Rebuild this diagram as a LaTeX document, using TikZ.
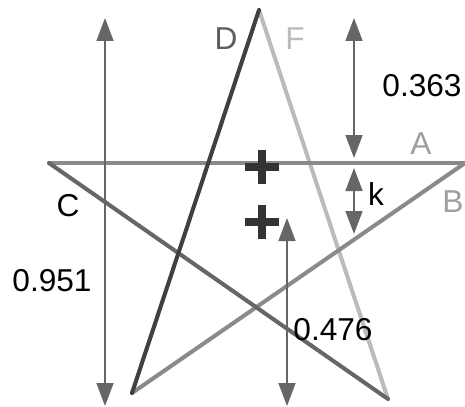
\documentclass[tikz,border=0pt]{standalone}
\usepackage{fontspec}
\setmainfont{Liberation Sans}
\usetikzlibrary{arrows.meta}
\definecolor{LineD}{HTML}{404040}
\definecolor{LineF}{HTML}{BBBBBB}
\definecolor{LineA}{HTML}{8A8A8A}
\definecolor{LineC}{HTML}{666666}
\definecolor{ArrowGray}{HTML}{666666}
\definecolor{PlusGray}{HTML}{333333}
\tikzset{
  starline/.style={line width=2.3pt,line cap=round},
  dimarrow/.style={{Triangle[length=4.6mm,width=3.4mm]}-{Triangle[length=4.6mm,width=3.4mm]},
    line width=0.85pt,draw=ArrowGray},
  lbl/.style={font=\fontsize{18}{20}\selectfont,inner sep=0pt},
  plusmark/.style={minimum size=0.68cm,inner sep=0pt,
    path picture={\draw[line width=0.16cm,draw=PlusGray]
      (path picture bounding box.north) -- (path picture bounding box.south)
      (path picture bounding box.west) -- (path picture bounding box.east);}},
}
\begin{document}
\begin{tikzpicture}[x=0.02cm,y=-0.02cm]
\useasboundingbox (0,0) rectangle (465,406);
\coordinate (top) at (259,10);
\coordinate (left) at (49,163);
\coordinate (right) at (465,163);
\coordinate (botL) at (132,393);
\coordinate (botR) at (388,399);
\draw[starline,draw=LineF] (top) -- (botR);
\draw[starline,draw=LineA] (left) -- (right);
\draw[starline,draw=LineA] (right) -- (botL);
\draw[starline,draw=LineC] (left) -- (botR);
\draw[starline,draw=LineD] (top) -- (botL);
\node[plusmark] (cA) at (262,167) {};
\node[plusmark] (cB) at (262,222) {};
\coordinate (hTop) at (105,18);
\coordinate (hBot) at (105,406);
\coordinate (sTop) at (354,18);
\coordinate (sBot) at (354,158);
\coordinate (kTop) at (354,168);
\coordinate (kBot) at (354,234);
\coordinate (rTop) at (287,218);
\coordinate (rBot) at (287,406);
\draw[dimarrow] (hTop) -- (hBot);
\draw[dimarrow] (sTop) -- (sBot);
\draw[dimarrow] (kTop) -- (kBot);
\draw[dimarrow] (rTop) -- (rBot);
\node[lbl,text=LineD!85!white] (labD) at (226,39) {D};
\node[lbl,text=LineF] (labF) at (295,39) {F};
\node[lbl,text=LineF!85!black] (labA) at (421,144) {A};
\node[lbl,text=LineF!85!black] (labB) at (453,202) {B};
\node[lbl] (labC) at (68,206) {C};
\node[lbl] (labK) at (376,194) {k};
\node[lbl] (hgt) at (52,281) {0.951};
\node[lbl] (up) at (422,86) {0.363};
\node[lbl] (cen) at (333,330) {0.476};
\end{tikzpicture}
\end{document}
